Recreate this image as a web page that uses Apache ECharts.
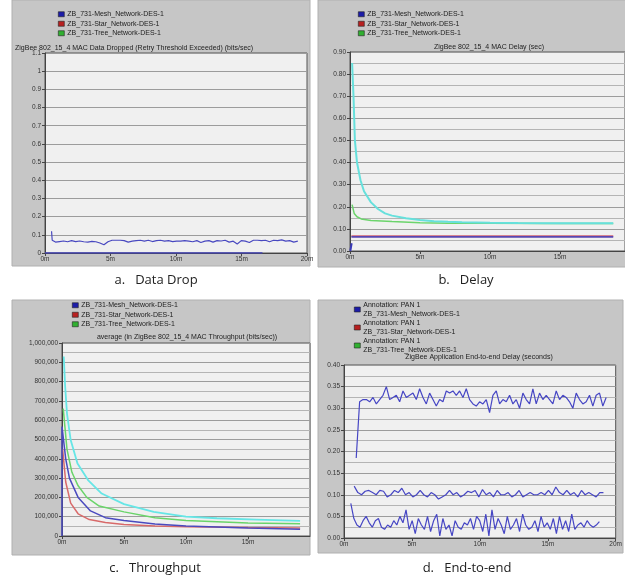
<!DOCTYPE html>
<html>
<head>
<meta charset="utf-8">
<script src="https://cdn.jsdelivr.net/npm/echarts@6/dist/echarts.min.js"></script>
<style>html,body{margin:0;padding:0;background:#fff}#main{width:625px;height:578px}</style>
</head>
<body>
<div id="main"></div>
<script>
// series names
var MESH = 'ZB_731-Mesh_Network-DES-1';
var STAR = 'ZB_731-Star_Network-DES-1';
var TREE = 'ZB_731-Tree_Network-DES-1';
var ANN = 'Annotation: PAN 1\n';

// a. data dropped (bits/sec)
var dropHeadTimes = [0.5, 0.55];
var dropHeadVals = [0.12, 0.07];
var dropMeshStart = 0.8, dropMeshEnd = 19.3;
var dropMeshVals = [0.06,0.063,0.066,0.062,0.068,0.063,0.066,0.062,0.06,0.064,0.062,0.055,0.045,0.062,0.07,0.07,0.07,0.068,0.06,0.065,
  0.068,0.07,0.065,0.07,0.063,0.068,0.07,0.065,0.068,0.063,0.065,0.065,0.068,0.065,0.062,0.068,0.058,0.065,0.068,0.06,
  0.068,0.066,0.07,0.06,0.065,0.05,0.068,0.065,0.058,0.07,0.07,0.068,0.07,0.062,0.07,0.068,0.072,0.065,0.068,0.06,0.065];
var dropZeroTimes = [0, 16.6];
var dropZeroVals = [0, 0];

// b. MAC delay (sec)
var delayCyanTimes = [0.15,0.25,0.35,0.5,0.75,1,1.5,2,2.5,3,4,5,6,7,8,10,12,15,18.8];
var delayCyanVals = [0.85,0.7,0.5,0.4,0.32,0.27,0.22,0.19,0.17,0.16,0.148,0.14,0.135,0.132,0.13,0.128,0.127,0.126,0.125];
var delayTreeTimes = [0.15,0.3,0.5,0.8,1.5,3,5,7,10,14,18.8];
var delayTreeVals = [0.21,0.17,0.155,0.145,0.138,0.133,0.128,0.125,0.125,0.124,0.124];
var delayStarTimes = [0.1, 18.8];
var delayStarVals = [0.068, 0.068];
var delayMeshTimes = [0.1, 18.8];
var delayMeshVals = [0.064, 0.064];
var delayMeshStubTimes = [0.02, 0.12];
var delayMeshStubVals = [0, 0.035];

// c. throughput (bits/sec)
var thrCyanTimes = [0.14,0.25,0.4,0.7,1.25,2.1,3.2,5,7.4,10,12.5,15.7,19.2];
var thrCyanVals = [930000,780000,636000,497000,376000,290000,220000,165000,125000,100000,92000,85000,78000];
var thrTreeTimes = [0.1,0.4,0.8,1.3,2,3,5,7.5,10,15,19.2];
var thrTreeVals = [660000,450000,330000,260000,200000,155000,125000,95000,80000,68000,63000];
var thrMeshTimes = [0,0,0.3,0.6,1.3,2.3,3.5,5,7.5,10,15,19.2];
var thrMeshVals = [0,567000,400000,300000,200000,130000,95000,80000,62000,52000,42000,35000];
var thrStarTimes = [0.05,0.3,0.7,1.3,2.2,3.5,5,7.5,10,15,19.2];
var thrStarVals = [450000,280000,170000,115000,85000,70000,60000,52000,48000,44000,42000];

// d. application end-to-end delay (seconds)
var e2eTopHeadTimes = [0.9, 1.15];
var e2eTopHeadVals = [0.185, 0.315];
var e2eTopStart = 1.4, e2eTopEnd = 19.3;
var e2eTopVals = [0.32,0.32,0.315,0.325,0.31,0.32,0.33,0.35,0.32,0.325,0.33,0.315,0.34,0.325,0.33,0.335,0.32,0.345,0.325,0.31,
  0.335,0.32,0.305,0.32,0.315,0.34,0.335,0.34,0.33,0.34,0.325,0.345,0.32,0.31,0.305,0.315,0.31,0.32,0.29,0.33,
  0.34,0.31,0.32,0.315,0.33,0.31,0.32,0.3,0.335,0.32,0.31,0.345,0.31,0.335,0.32,0.33,0.32,0.31,0.34,0.32,
  0.33,0.325,0.315,0.3,0.335,0.32,0.31,0.315,0.33,0.305,0.33,0.335,0.305,0.325];
var e2eMidStart = 0.75, e2eMidEnd = 19.1;
var e2eMidVals = [0.12,0.105,0.1,0.108,0.11,0.105,0.1,0.11,0.108,0.095,0.1,0.11,0.105,0.115,0.1,0.105,0.095,0.1,0.11,0.1,
  0.095,0.105,0.1,0.09,0.095,0.1,0.11,0.1,0.105,0.095,0.1,0.108,0.105,0.11,0.095,0.112,0.1,0.105,0.095,0.11,
  0.1,0.1,0.105,0.095,0.1,0.11,0.095,0.1,0.105,0.1,0.1,0.105,0.1,0.11,0.1,0.118,0.105,0.1,0.11,0.1,
  0.105,0.095,0.11,0.1,0.105,0.1,0.095,0.105,0.105];
var e2eLowStart = 0.5, e2eLowEnd = 18.8;
var e2eLowVals = [0.08,0.045,0.03,0.025,0.04,0.05,0.035,0.025,0.04,0.045,0.025,0.02,0.03,0.025,0.04,0.03,0.05,0.035,0.065,0.02,
  0.04,0.01,0.045,0.03,0.02,0.05,0.015,0.04,0.055,0.005,0.045,0.02,0.03,0.005,0.04,0.025,0.02,0.035,0.03,0.045,
  0.02,0.05,0.04,0.015,0.055,0.005,0.065,0.02,0.045,0.03,0.01,0.05,0.02,0.03,0.045,0.015,0.055,0.03,0.02,0.025,
  0.04,0.015,0.05,0.025,0.035,0.02,0.045,0.01,0.05,0.02,0.04,0.015,0.055,0.02,0.03,0.035,0.025,0.04,0.03,0.025,
  0.03,0.038];

var captions = ['a.   Data Drop', 'b.   Delay', 'c.   Throughput', 'd.   End-to-end'];

function zip(ts, vs) {
  return ts.map(function (t, i) { return [t, vs[i]]; });
}
function spread(start, end, vs) {
  var step = (end - start) / (vs.length - 1);
  return vs.map(function (v, i) { return [start + i * step, v]; });
}

var LBL = {fontSize: 6.5, color: '#333', fontFamily: 'Liberation Sans'};

function xAxis(gi, max, hideMax) {
  return {
    type: 'value', gridIndex: gi, min: 0, max: max, interval: 5,
    axisLine: {lineStyle: {color: '#444'}},
    axisTick: {length: 3, lineStyle: {color: '#444'}},
    splitLine: {show: false},
    axisLabel: Object.assign({margin: 3, showMaxLabel: !hideMax, formatter: function (v) { return v + 'm'; }}, LBL)
  };
}
function yAxis(gi, max, interval, fmt, minor) {
  return {
    type: 'value', gridIndex: gi, min: 0, max: max, interval: interval,
    axisLine: {show: true, lineStyle: {color: '#444'}},
    axisTick: {show: true, length: 3, lineStyle: {color: '#444'}},
    splitLine: {lineStyle: {color: '#9c9c9c', width: 1}},
    minorTick: {show: false, splitNumber: 2},
    minorSplitLine: {show: minor, lineStyle: {color: '#b4b4b4', width: 1}},
    axisLabel: Object.assign({margin: 4, formatter: fmt}, LBL)
  };
}
function line(name, gi, data, color, width) {
  return {
    type: 'line', name: name, xAxisIndex: gi, yAxisIndex: gi, data: data,
    symbol: 'none', lineStyle: {color: color, width: width}, itemStyle: {color: color},
    silent: true, animation: false
  };
}
function legendItems(names) {
  var cols = ['#1c1ca8', '#b82020', '#30b030'];
  return names.map(function (n, i) {
    return {name: n, icon: 'rect', itemStyle: {color: cols[i], borderColor: '#222', borderWidth: 0.6}};
  });
}
function legend(left, top, names, lh) {
  return {
    left: left, top: top, orient: 'vertical', itemWidth: 6, itemHeight: 5, itemGap: 1,
    selectedMode: false, padding: 0,
    textStyle: {fontSize: 7, color: '#222', fontFamily: 'Liberation Sans', lineHeight: lh, padding: [0, 0, 0, -2]},
    data: legendItems(names)
  };
}
function panel(x, y, w, h) {
  return {type: 'rect', z: -10, silent: true, shape: {x: x, y: y, width: w, height: h},
    style: {fill: '#c6c6c6', stroke: '#b0b0b0', lineWidth: 1}};
}
function label(x, y, text, size, align, width) {
  var st = {text: text, x: x, y: y, fontSize: size, fill: '#222', align: align, verticalAlign: 'middle',
    fontFamily: size > 9 ? 'Open Sans' : 'Liberation Sans'};
  if (width) { st.width = width; st.overflow = 'truncate'; st.ellipsis = ''; }
  return {type: 'text', z: 100, silent: true, style: st};
}

var fmt1 = function (v) { return String(+v.toFixed(1)); };
var fmt2 = function (v) { return v.toFixed(2); };
var fmtK = function (v) { return v.toLocaleString('en-US'); };

var chart = echarts.init(document.getElementById('main'), null, {renderer: 'canvas'});
chart.setOption({
  backgroundColor: '#ffffff',
  animation: false,
  grid: [
    {left: 45, top: 53, width: 262, height: 200, show: true, backgroundColor: '#f0f0f0', borderColor: '#555', borderWidth: 1},
    {left: 350, top: 52, width: 275, height: 199, show: true, backgroundColor: '#f0f0f0', borderColor: '#555', borderWidth: 1},
    {left: 62, top: 343, width: 248, height: 193, show: true, backgroundColor: '#f0f0f0', borderColor: '#555', borderWidth: 1},
    {left: 344, top: 365, width: 273, height: 173, show: true, backgroundColor: '#f0f0f0', borderColor: '#555', borderWidth: 1}
  ],
  xAxis: [xAxis(0, 20, false), xAxis(1, 19.64, true), xAxis(2, 20, true), xAxis(3, 20, false)],
  yAxis: [
    yAxis(0, 1.1, 0.1, fmt1, false),
    yAxis(1, 0.9, 0.1, fmt2, true),
    yAxis(2, 1000000, 100000, fmtK, true),
    yAxis(3, 0.4, 0.05, fmt2, true)
  ],
  legend: [
    legend(58, 10, [MESH, STAR, TREE], 8.5),
    legend(358, 10, [MESH, STAR, TREE], 8.5),
    legend(72, 301, [MESH, STAR, TREE], 8.5),
    legend(354, 301, [ANN + MESH, ANN + STAR, ANN + TREE], 8.5)
  ],
  graphic: [
    panel(12, 0, 298, 266),
    panel(318, 0, 310, 267),
    panel(12, 300, 298, 255),
    panel(318, 300, 305, 253),
    label(15, 48, 'ZigBee 802_15_4 MAC Data Dropped (Retry Threshold Exceeded) (bits/sec)', 7, 'left', 293),
    label(489, 47, 'ZigBee 802_15_4 MAC Delay (sec)', 7, 'center'),
    label(187, 337, 'average (in ZigBee 802_15_4 MAC Throughput (bits/sec))', 7, 'center'),
    label(479, 357, 'ZigBee Application End-to-end Delay (seconds)', 7, 'center'),
    label(156, 280, captions[0], 13, 'center'),
    label(466, 280, captions[1], 13, 'center'),
    label(155, 568, captions[2], 13, 'center'),
    label(467, 568, captions[3], 13, 'center')
  ],
  series: [
    line(MESH, 0, zip(dropZeroTimes, dropZeroVals), '#4040b8', 1.5),
    line(MESH, 0, zip(dropHeadTimes, dropHeadVals).concat(spread(dropMeshStart, dropMeshEnd, dropMeshVals)), '#4848c0', 1.2),

    line(STAR, 1, zip(delayStarTimes, delayStarVals), '#d06070', 1.5),
    line(MESH, 1, zip(delayMeshTimes, delayMeshVals), '#5a46b0', 1.8),
    line(MESH, 1, zip(delayMeshStubTimes, delayMeshStubVals), '#3a3ab8', 2),
    line(TREE, 1, zip(delayTreeTimes, delayTreeVals), '#6cd46c', 1.5),
    line(TREE, 1, zip(delayCyanTimes, delayCyanVals), '#66e0dc', 2),

    line(STAR, 2, zip(thrStarTimes, thrStarVals), '#d86a6a', 1.5),
    line(MESH, 2, zip(thrMeshTimes, thrMeshVals), '#4a4abf', 1.5),
    line(TREE, 2, zip(thrTreeTimes, thrTreeVals), '#6ad46a', 1.5),
    line(TREE, 2, zip(thrCyanTimes, thrCyanVals), '#66e6e6', 1.8),

    line(ANN + MESH, 3, zip(e2eTopHeadTimes, e2eTopHeadVals).concat(spread(e2eTopStart, e2eTopEnd, e2eTopVals)), '#4646c4', 1.2),
    line(ANN + STAR, 3, spread(e2eMidStart, e2eMidEnd, e2eMidVals), '#4646c4', 1.2),
    line(ANN + TREE, 3, spread(e2eLowStart, e2eLowEnd, e2eLowVals), '#4646c4', 1.2)
  ]
});
</script>
</body>
</html>
